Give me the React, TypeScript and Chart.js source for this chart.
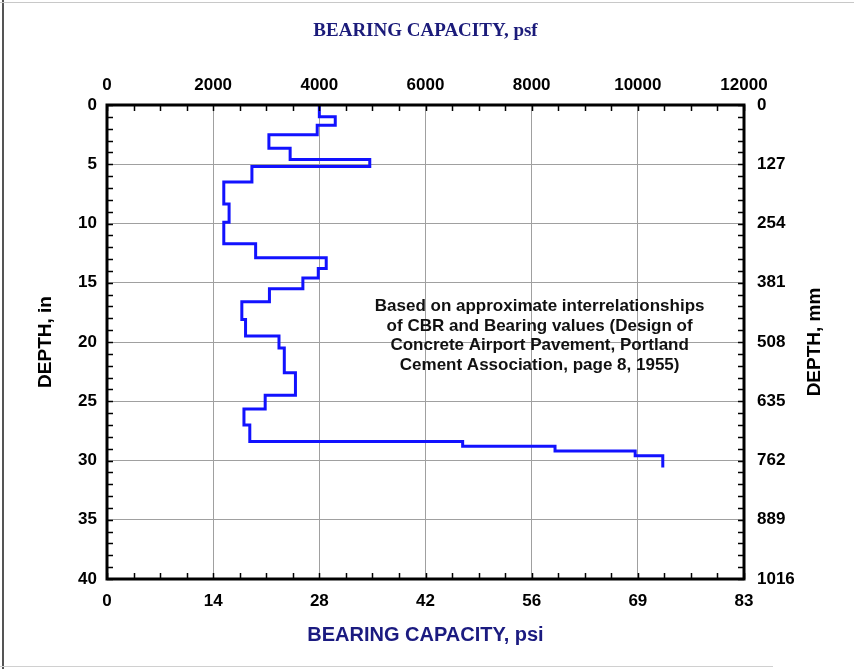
import React, { useEffect, useRef } from 'react';
import { Chart, registerables } from 'chart.js';

Chart.register(...registerables);

// Layer boundaries (depth, in) and bearing capacity of each layer (psf)
const depthBreaksIn = [0, 1, 1.7, 2.5, 3.65, 4.6, 5.2, 6.5, 8.35, 9.9, 11.7, 12.9, 13.8, 14.6, 15.5, 16.6, 18.1, 19.5, 20.5, 22.6, 24.5, 25.65, 27.0, 28.4, 28.8, 29.2, 29.6, 30.6];
const bearingPsf = [4000, 4300, 3960, 3050, 3450, 4950, 2730, 2200, 2300, 2200, 2800, 4130, 3980, 3690, 3060, 2540, 2610, 3240, 3340, 3550, 2980, 2580, 2690, 6700, 8440, 9950, 10470];

const psiLabels = ['0', '14', '28', '42', '56', '69', '83'];
const mmLabels = ['0', '127', '254', '381', '508', '635', '762', '889', '1016'];
const noteLines = [
  'Based on approximate interrelationships',
  'of CBR and Bearing values (Design of',
  'Concrete Airport Pavement, Portland',
  'Cement Association, page 8, 1955)',
];
const noteAnchor = { psf: 8150, depth: 17.0, lineStepIn: 1.65 };
const rightTitle = 'DEPTH, mm';

const SANS = "'Liberation Sans', Arial, Helvetica, sans-serif";
const SERIF = "'Liberation Serif', 'Times New Roman', serif";

const framePlugin = {
  id: 'frameAndMinorTicks',
  afterDraw(chart: any) {
    const { ctx, chartArea, scales } = chart;
    const { left, right, top, bottom } = chartArea;
    ctx.save();
    ctx.strokeStyle = '#000';
    ctx.lineWidth = 1.5;
    const xs = scales.x;
    for (let v = 0; v <= 12000; v += 500) {
      const px = Math.round(xs.getPixelForValue(v)) + 0.5;
      ctx.beginPath();
      ctx.moveTo(px, top);
      ctx.lineTo(px, top + 6);
      ctx.moveTo(px, bottom);
      ctx.lineTo(px, bottom - 6);
      ctx.stroke();
    }
    const ys = scales.y;
    for (let d = 0; d <= 40; d += 1) {
      const py = Math.round(ys.getPixelForValue(d)) + 0.5;
      ctx.beginPath();
      ctx.moveTo(left, py);
      ctx.lineTo(left + 6, py);
      ctx.moveTo(right, py);
      ctx.lineTo(right - 6, py);
      ctx.stroke();
    }
    ctx.lineWidth = 3;
    ctx.strokeRect(left, top, right - left, bottom - top);

    // right axis title, reading bottom-to-top like the left one
    ctx.fillStyle = '#000';
    ctx.font = `bold 19px ${SANS}`;
    ctx.textAlign = 'center';
    ctx.textBaseline = 'middle';
    ctx.save();
    ctx.translate(815, (top + bottom) / 2);
    ctx.rotate(-Math.PI / 2);
    ctx.fillText(rightTitle, 0, 0);
    ctx.restore();

    // note text
    ctx.fillStyle = '#111';
    ctx.font = `bold 17px ${SANS}`;
    const cx = xs.getPixelForValue(noteAnchor.psf);
    noteLines.forEach((line, i) => {
      const cy = ys.getPixelForValue(noteAnchor.depth + i * noteAnchor.lineStepIn);
      ctx.fillText(line, cx, cy);
    });
    ctx.restore();
  },
};

export default function App() {
  const ref = useRef<HTMLCanvasElement>(null);

  useEffect(() => {
    const points: { x: number; y: number }[] = [];
    bearingPsf.forEach((v, i) => {
      points.push({ x: v, y: depthBreaksIn[i] });
      points.push({ x: v, y: depthBreaksIn[i + 1] });
    });

    const tickFont = { family: SANS, size: 17, weight: 'bold' as const };

    const chart = new Chart(ref.current as HTMLCanvasElement, {
      type: 'scatter',
      data: {
        datasets: [
          {
            data: points,
            showLine: true,
            borderColor: '#1212ff',
            backgroundColor: '#1212ff',
            borderWidth: 3,
            pointRadius: 0,
            tension: 0,
            borderJoinStyle: 'miter',
            xAxisID: 'x',
            yAxisID: 'y',
          },
        ],
      },
      options: {
        responsive: false,
        animation: false,
        layout: { padding: 0 },
        plugins: { legend: { display: false }, tooltip: { enabled: false } },
        scales: {
          x: {
            type: 'linear',
            position: 'top',
            min: 0,
            max: 12000,
            ticks: {
              stepSize: 2000,
              autoSkip: false,
              maxRotation: 0,
              color: '#000',
              font: tickFont,
              padding: 9,
              callback: (v: any) => String(v),
            },
            grid: { color: '#a0a0a0', lineWidth: 1, drawTicks: false },
            border: { display: false },
            title: {
              display: true,
              text: 'BEARING CAPACITY, psf',
              color: '#1b1b7a',
              font: { family: SERIF, size: 19, weight: 'bold' },
              padding: { top: 20, bottom: 0 },
            },
            afterFit: (s: any) => { s.height = 105; },
          },
          x2: {
            type: 'linear',
            position: 'bottom',
            min: 0,
            max: 12000,
            ticks: {
              stepSize: 2000,
              autoSkip: false,
              maxRotation: 0,
              color: '#000',
              font: tickFont,
              padding: 12,
              callback: (v: any) => psiLabels[Math.round(v / 2000)],
            },
            grid: { drawOnChartArea: false, drawTicks: false },
            border: { display: false },
            title: {
              display: true,
              text: 'BEARING CAPACITY, psi',
              color: '#1b1b80',
              font: { family: SANS, size: 20, weight: 'bold' },
              padding: { top: 0, bottom: 22 },
            },
            afterFit: (s: any) => { s.height = 90; },
          },
          y: {
            type: 'linear',
            position: 'left',
            reverse: true,
            min: 0,
            max: 40,
            ticks: { stepSize: 5, autoSkip: false, color: '#000', font: tickFont, padding: 10 },
            grid: { color: '#a0a0a0', lineWidth: 1, drawTicks: false },
            border: { display: false },
            title: {
              display: true,
              text: 'DEPTH, in',
              color: '#000',
              font: { family: SANS, size: 19, weight: 'bold' },
              padding: { top: 34, bottom: 0 },
            },
            afterFit: (s: any) => { s.width = 107; },
          },
          y2: {
            type: 'linear',
            position: 'right',
            reverse: true,
            min: 0,
            max: 40,
            ticks: {
              stepSize: 5,
              autoSkip: false,
              color: '#000',
              font: tickFont,
              padding: 13,
              callback: (v: any) => mmLabels[Math.round(v / 5)],
            },
            grid: { drawOnChartArea: false, drawTicks: false },
            border: { display: false },
            title: { display: false },
            afterFit: (s: any) => { s.width = 110; },
          },
        },
      } as any,
      plugins: [framePlugin],
    });
    return () => chart.destroy();
  }, []);

  return (
    <div style={{ position: 'fixed', left: 0, top: 0, width: 854, height: 669, background: '#fff', overflow: 'hidden' }}>
      <canvas ref={ref} width={854} height={669} style={{ display: 'block', width: 854, height: 669 }} />
      <div style={{ position: 'absolute', left: 2, top: 0, width: 2, height: 669, background: '#555' }} />
      <div style={{ position: 'absolute', left: 0, top: 2, width: 854, height: 1, background: '#c8c8c8' }} />
      <div style={{ position: 'absolute', left: 0, top: 666, width: 773, height: 1, background: '#d0d0d0' }} />
    </div>
  );
}
